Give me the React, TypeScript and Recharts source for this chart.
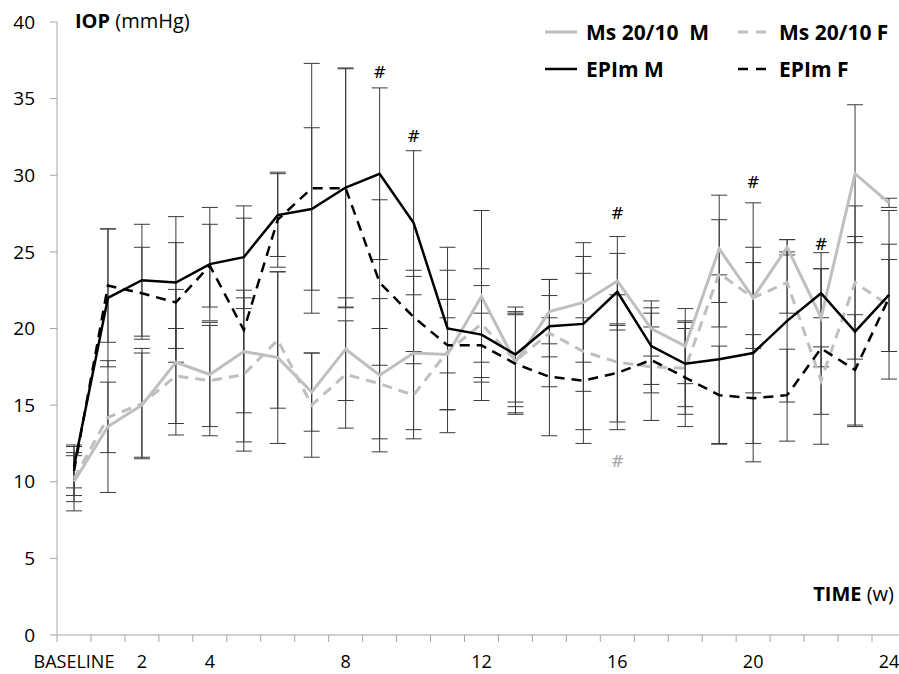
import React from "react";
import { LineChart, Line, XAxis, YAxis, ErrorBar, ReferenceDot } from "recharts";

const WEEKS = ["BASELINE", "1", "2", "3", "4", "5", "6", "7", "8", "9", "10", "11", "12",
  "13", "14", "15", "16", "17", "18", "19", "20", "21", "22", "23", "24"];
const SHOWN_TICKS = ["BASELINE", "2", "4", "8", "12", "16", "20", "24"];

// mean IOP values (mmHg)
const MS_M = [10.0, 13.6, 15.0, 17.8, 17.0, 18.5, 18.1, 15.85, 18.65, 16.95, 18.4, 18.3, 22.1,
  17.8, 21.1, 21.7, 23.1, 20.0, 18.85, 25.2, 22.0, 25.3, 20.7, 30.1, 28.2];
const MS_F = [10.2, 14.2, 15.1, 16.9, 16.6, 17.0, 19.25, 15.0, 17.0, 16.4, 15.65, 18.5, 20.3,
  17.9, 19.7, 18.5, 17.8, 17.5, 17.4, 23.6, 22.0, 23.0, 16.6, 23.0, 21.5];
const EPIM_M = [11.0, 22.0, 23.15, 23.0, 24.2, 24.65, 27.4, 27.8, 29.2, 30.1, 26.9, 20.0, 19.6,
  18.3, 20.15, 20.3, 22.4, 18.85, 17.7, 18.0, 18.4, 20.5, 22.3, 19.8, 22.2];
const EPIM_F = [10.7, 22.8, 22.3, 21.7, 24.1, 19.9, 27.1, 29.15, 29.15, 23.0, 20.75, 18.9, 18.9,
  17.7, 16.85, 16.6, 17.1, 17.95, 16.8, 15.65, 15.45, 15.65, 18.7, 17.3, 22.0];

// standard deviations
const MS_M_SD = [1.9, 4.3, 3.4, 4.75, 3.4, 4.0, 5.6, 2.55, 3.35, 5.0, 5.0, 3.6, 5.6,
  3.3, 2.1, 3.9, 2.9, 1.8, 2.45, 3.5, 6.2, 0.5, 3.2, 4.5, 0.3];
const MS_F_SD = [1.5, 2.3, 3.6, 3.1, 3.6, 5.0, 4.45, 3.4, 3.5, 3.6, 2.85, 5.3, 2.5,
  3.0, 3.5, 5.1, 4.4, 3.5, 3.0, 3.5, 3.3, 2.0, 2.2, 5.0, 3.0];
const EPIM_M_SD = [1.4, 4.5, 3.65, 4.3, 3.7, 3.35, 2.7, 5.3, 7.8, 5.6, 4.7, 5.3, 4.3,
  3.1, 2.0, 4.4, 2.5, 2.5, 2.8, 5.5, 5.9, 5.3, 1.6, 6.2, 5.5];
const EPIM_F_SD = [1.6, 3.7, 3.0, 3.9, 2.7, 7.3, 3.1, 8.15, 7.8, 5.4, 3.05, 1.8, 2.1,
  3.3, 3.85, 4.1, 3.2, 2.15, 3.2, 3.2, 4.15, 3.0, 6.25, 3.6, 3.5];

const MARKS = [
  { week: "9", value: 36.7, color: "#000" },
  { week: "10", value: 32.5, color: "#000" },
  { week: "16", value: 27.5, color: "#000" },
  { week: "20", value: 29.5, color: "#000" },
  { week: "22", value: 25.5, color: "#000" },
  { week: "16", value: 11.3, color: "#a6a6a6" },
];

const SERIES = [
  { key: "msM", sd: "msMSd", name: "Ms 20/10\u00a0\u00a0M", color: "#bfbfbf", dash: undefined, width: 3 },
  { key: "msF", sd: "msFSd", name: "Ms 20/10 F", color: "#bfbfbf", dash: "10 7", width: 3 },
  { key: "epM", sd: "epMSd", name: "EPIm M", color: "#000", dash: undefined, width: 2.5 },
  { key: "epF", sd: "epFSd", name: "EPIm F", color: "#000", dash: "10 7", width: 2.5 },
];

const data = WEEKS.map((w, i) => ({
  week: w,
  msM: MS_M[i], msMSd: MS_M_SD[i],
  msF: MS_F[i], msFSd: MS_F_SD[i],
  epM: EPIM_M[i], epMSd: EPIM_M_SD[i],
  epF: EPIM_F[i], epFSd: EPIM_F_SD[i],
}));

const FONT = "'Open Sans', 'Liberation Sans', sans-serif";
const AXIS = "#a6a6a6";

function WeekTick(props: any) {
  const { x, y, payload } = props;
  const show = SHOWN_TICKS.includes(payload.value);
  return (
    <g>
      <line x1={x - 17} x2={x - 17} y1={y} y2={y + 7} stroke={AXIS} strokeWidth={1} />
      {show && (
        <text x={x} y={y + 33} textAnchor="middle" fontSize={18} fontFamily={FONT} fill="#000">
          {payload.value}
        </text>
      )}
    </g>
  );
}

function Legend2x2() {
  const cols = [545, 738];
  const rows = [32, 69];
  return (
    <>
      {SERIES.map((s, i) => {
        const cx = cols[i % 2];
        const cy = rows[Math.floor(i / 2)];
        return (
          <div key={s.key} style={{ position: "absolute", left: cx, top: cy - 15, height: 30, display: "flex", alignItems: "center" }}>
            <svg width={34} height={6} style={{ marginRight: 7 }}>
              <line x1={0} x2={32} y1={3} y2={3} stroke={s.color} strokeWidth={s.width} strokeDasharray={s.dash ? "10 8" : undefined} />
            </svg>
            <span style={{ fontFamily: FONT, fontWeight: 700, fontSize: 21, color: "#000", whiteSpace: "pre" }}>{s.name}</span>
          </div>
        );
      })}
    </>
  );
}

export default function App() {
  return (
    <div style={{ position: "absolute", left: 0, top: 0, width: 899, height: 674, overflow: "hidden", background: "#fff" }}>
      <LineChart width={920} height={674} data={data} margin={{ top: 22, right: 14, left: 0, bottom: 0 }}>
        <XAxis
          dataKey="week"
          height={39}
          padding={{ left: 17, right: 17 }}
          stroke={AXIS}
          tickLine={false}
          tickSize={0}
          tickMargin={0}
          interval={0}
          tick={<WeekTick />}
        />
        <YAxis
          type="number"
          domain={[0, 40]}
          ticks={[0, 5, 10, 15, 20, 25, 30, 35, 40]}
          width={57}
          stroke={AXIS}
          tickSize={7}
          tickMargin={15}
          tick={{ fontSize: 19, fontFamily: FONT, fill: "#000" }}
        />
        {SERIES.map((s) => (
          <Line key={s.key + "-err"} dataKey={s.key} stroke="none" dot={false} activeDot={false} legendType="none" isAnimationActive={false}>
            <ErrorBar dataKey={s.sd} width={8} stroke="#3a3a3a" strokeWidth={1} direction="y" />
          </Line>
        ))}
        {SERIES.map((s) => (
          <Line
            key={s.key}
            dataKey={s.key}
            name={s.name}
            type="linear"
            stroke={s.color}
            strokeWidth={s.width}
            strokeDasharray={s.dash}
            dot={false}
            activeDot={false}
            isAnimationActive={false}
          />
        ))}
        {MARKS.map((m, i) => (
          <ReferenceDot
            key={i}
            x={m.week}
            y={m.value}
            r={1}
            shape={(p: any) => (
              <text x={p.cx} y={p.cy} textAnchor="middle" dominantBaseline="central" fontSize={16} fontFamily="'DejaVu Serif', serif" fill={m.color}>
                #
              </text>
            )}
          />
        ))}
      </LineChart>
      <div style={{ position: "absolute", left: 75, top: 7, fontFamily: FONT, fontSize: 20, color: "#000", whiteSpace: "pre" }}>
        <b>IOP</b> (mmHg)
      </div>
      <div style={{ position: "absolute", right: 5, top: 580, fontFamily: FONT, fontSize: 20, color: "#000", whiteSpace: "pre" }}>
        <b>TIME</b> (w)
      </div>
      <Legend2x2 />
    </div>
  );
}
